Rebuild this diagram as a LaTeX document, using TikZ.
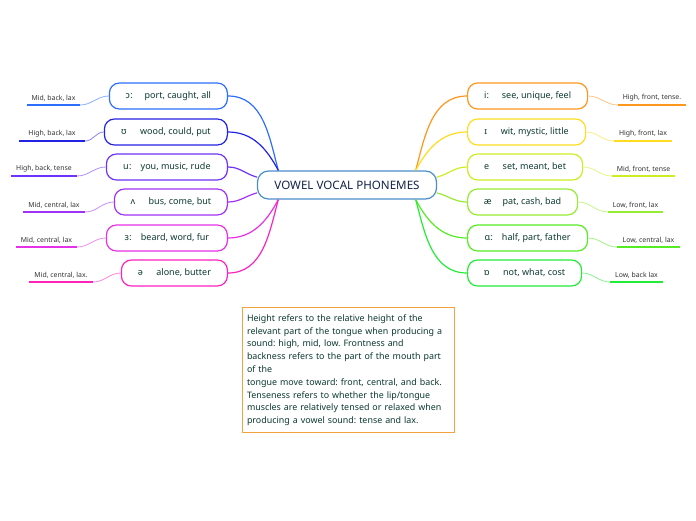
\documentclass[tikz,border=0pt]{standalone}
\usepackage{fontspec}
\setmainfont{Noto Sans}
\usepackage{tikz}
\definecolor{ink}{RGB}{12, 58, 48}
\definecolor{titleink}{RGB}{18, 34, 74}
\definecolor{rootline}{RGB}{74, 142, 204}
\definecolor{noteline}{RGB}{245, 162, 62}
\definecolor{cA}{RGB}{45, 110, 255}
\definecolor{cB}{RGB}{35, 35, 230}
\definecolor{cC}{RGB}{110, 50, 250}
\definecolor{cD}{RGB}{160, 50, 245}
\definecolor{cE}{RGB}{230, 50, 230}
\definecolor{cF}{RGB}{255, 35, 190}
\definecolor{cG}{RGB}{255, 150, 30}
\definecolor{cH}{RGB}{255, 220, 30}
\definecolor{cI}{RGB}{205, 238, 35}
\definecolor{cJ}{RGB}{150, 236, 50}
\definecolor{cK}{RGB}{85, 236, 35}
\definecolor{cL}{RGB}{35, 236, 55}
\usetikzlibrary{positioning}
\frenchspacing

\begin{document}
\begin{tikzpicture}[x=1pt, y=-1pt,
    root/.style={draw=rootline, line width=1.2pt, rounded corners=11pt, fill=white,
                 minimum width=179pt, minimum height=28pt, text=titleink,
                 font=\fontsize{11.6}{13}\selectfont},
    vowel/.style={draw=#1, line width=1.2pt, rounded corners=10pt, fill=white,
                  minimum height=26pt, inner xsep=2pt, text=ink,
                  font=\fontsize{9}{11}\selectfont},
    tag/.style={minimum width=#1, inner xsep=0pt, inner ysep=3.5pt, anchor=south,
                text=black!80, font=\fontsize{6.9}{8}\selectfont},
    limb/.style={draw=#1, line width=1.2pt},
    twig/.style={draw=#1!55, line width=0.8pt},
    ul/.style={draw=#1, line width=1.6pt},
    note/.style={draw=noteline, line width=0.8pt, fill=white, text=ink, align=left,
                 text width=202pt, inner xsep=5pt, inner ysep=7pt, anchor=north,
                 font=\fontsize{8.9}{12.8}\selectfont}
]
    \useasboundingbox (0,0) rectangle (696,520);

    \node[root] (root) at (347,185) {VOWEL VOCAL PHONEMES};

    \node[vowel=cA, anchor=east, minimum width=118pt] (oo) at (228,96) {ɔː\hspace{1.3em}port, caught, all};
    \node[vowel=cB, anchor=east, minimum width=123pt] (uh) at (228,132) {ʊ\hspace{1.5em}wood, could, put};
    \node[vowel=cC, anchor=east, minimum width=121pt] (uu) at (228,167) {uː\hspace{1em}you, music, rude};
    \node[vowel=cD, anchor=east, minimum width=113pt] (vv) at (228,202) {ʌ\hspace{1.5em}bus, come, but};
    \node[vowel=cE, anchor=east, minimum width=121pt] (er) at (228,238) {ɜː\hspace{1em}beard, word, fur};
    \node[vowel=cF, anchor=east, minimum width=106pt] (sw) at (228,273) {ə\hspace{1.5em}alone, butter};

    \node[vowel=cG, anchor=west, minimum width=120pt] (ii) at (467,96) {iː\hspace{1.4em}see, unique, feel};
    \node[vowel=cH, anchor=west, minimum width=118pt] (ih) at (467,132) {ɪ\hspace{1.5em}wit, mystic, little};
    \node[vowel=cI, anchor=west, minimum width=115pt] (ee) at (467,167) {e\hspace{1.5em}set, meant, bet};
    \node[vowel=cJ, anchor=west, minimum width=110pt] (ae) at (467,202) {æ\hspace{1.2em}pat, cash, bad};
    \node[vowel=cK, anchor=west, minimum width=120pt] (aa) at (467,238) {ɑː\hspace{1em}half, part, father};
    \node[vowel=cL, anchor=west, minimum width=114pt] (ow) at (467,273) {ɒ\hspace{1.5em}not, what, cost};

    \node[tag=53pt] (too) at (53.5,105) {Mid, back, lax};
    \node[tag=66pt] (tuh) at (52,141) {High, back, lax};
    \node[tag=66pt] (tuu) at (44,176) {High, back, tense};
    \node[tag=62pt] (tvv) at (54,212) {Mid, central, lax};
    \node[tag=61pt] (ter) at (46.5,247) {Mid, central, lax};
    \node[tag=64pt] (tsw) at (61,282) {Mid, central, lax.};

    \node[tag=68pt] (tii) at (652,105) {High, front, tense.};
    \node[tag=58pt] (tih) at (643,141) {High, front, lax};
    \node[tag=63pt] (tee) at (643.5,176) {Mid, front, tense};
    \node[tag=55pt] (tae) at (635.5,212) {Low, front, lax};
    \node[tag=63pt] (taa) at (648.5,247) {Low, central, lax};
    \node[tag=53pt] (tow) at (636.5,282) {Low, back lax};

    \node[note] (note) at (348,307) {Height refers to the relative height of the\\
        relevant part of the tongue when producing a\\
        sound: high, mid, low. Frontness and\\
        backness refers to the part of the mouth part\\
        of the\\
        tongue move toward: front, central, and back.\\
        Tenseness refers to whether the lip/tongue\\
        muscles are relatively tensed or relaxed when\\
        producing a vowel sound: tense and lax.};

    \draw[limb=cA] (root.168) to[out=105, in=0] (oo.east);
    \draw[limb=cB] (root.168) to[out=118, in=0] (uh.east);
    \draw[limb=cC] (root.175) to[out=165, in=0] (uu.east);
    \draw[limb=cD] (root.185) to[out=195, in=0] (vv.east);
    \draw[limb=cE] (root.192) to[out=242, in=0] (er.east);
    \draw[limb=cF] (root.192) to[out=255, in=0] (sw.east);

    \draw[limb=cG] (root.12) to[out=75, in=180] (ii.west);
    \draw[limb=cH] (root.12) to[out=62, in=180] (ih.west);
    \draw[limb=cI] (root.5) to[out=15, in=180] (ee.west);
    \draw[limb=cJ] (root.355) to[out=-15, in=180] (ae.west);
    \draw[limb=cK] (root.348) to[out=-62, in=180] (aa.west);
    \draw[limb=cL] (root.348) to[out=-75, in=180] (ow.west);

    \draw[ul=cA] (too.south west) -- (too.south east);
    \draw[ul=cB] (tuh.south west) -- (tuh.south east);
    \draw[ul=cC] (tuu.south west) -- (tuu.south east);
    \draw[ul=cD] (tvv.south west) -- (tvv.south east);
    \draw[ul=cE] (ter.south west) -- (ter.south east);
    \draw[ul=cF] (tsw.south west) -- (tsw.south east);
    \draw[ul=cG] (tii.south west) -- (tii.south east);
    \draw[ul=cH] (tih.south west) -- (tih.south east);
    \draw[ul=cI] (tee.south west) -- (tee.south east);
    \draw[ul=cJ] (tae.south west) -- (tae.south east);
    \draw[ul=cK] (taa.south west) -- (taa.south east);
    \draw[ul=cL] (tow.south west) -- (tow.south east);

    \draw[twig=cA] (too.south east) to[out=0, in=180] (oo.west);
    \draw[twig=cB] (tuh.south east) to[out=0, in=180] (uh.west);
    \draw[twig=cC] (tuu.south east) to[out=0, in=180] (uu.west);
    \draw[twig=cD] (tvv.south east) to[out=0, in=180] (vv.west);
    \draw[twig=cE] (ter.south east) to[out=0, in=180] (er.west);
    \draw[twig=cF] (tsw.south east) to[out=0, in=180] (sw.west);
    \draw[twig=cG] (ii.east) to[out=0, in=180] (tii.south west);
    \draw[twig=cH] (ih.east) to[out=0, in=180] (tih.south west);
    \draw[twig=cI] (ee.east) to[out=0, in=180] (tee.south west);
    \draw[twig=cJ] (ae.east) to[out=0, in=180] (tae.south west);
    \draw[twig=cK] (aa.east) to[out=0, in=180] (taa.south west);
    \draw[twig=cL] (ow.east) to[out=0, in=180] (tow.south west);
\end{tikzpicture}
\end{document}
